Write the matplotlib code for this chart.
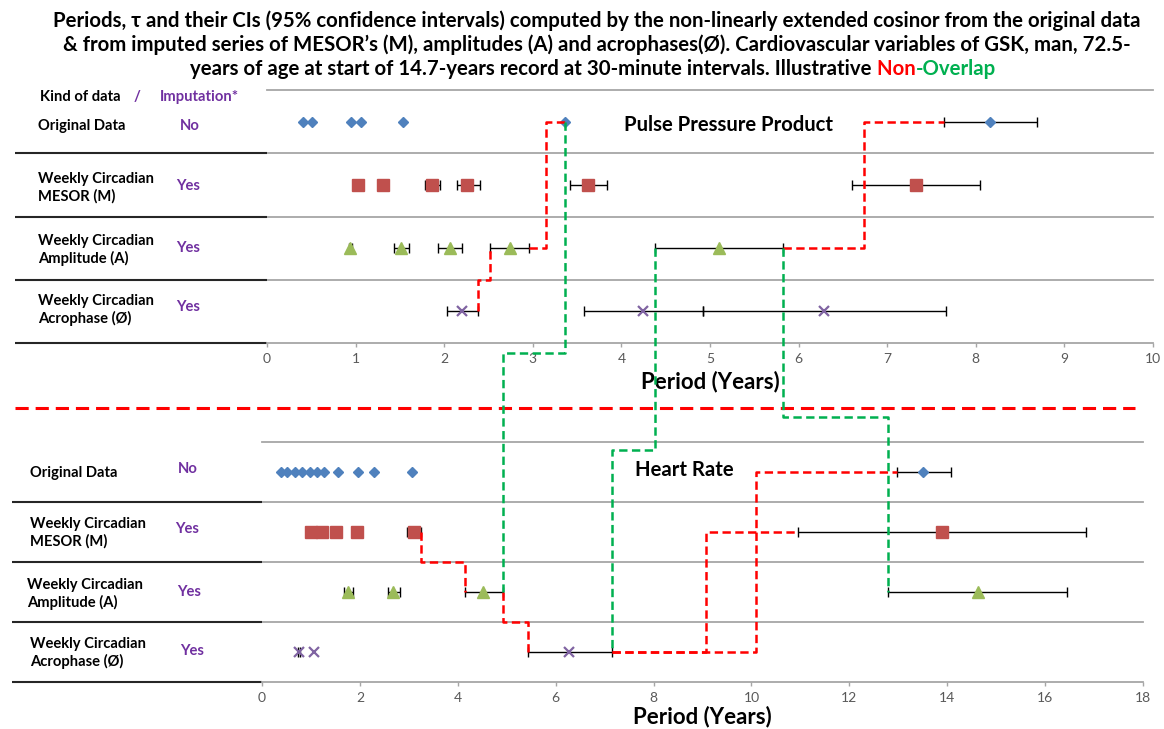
import numpy as np
import matplotlib
matplotlib.use("Agg")
import matplotlib.pyplot as plt
from matplotlib.transforms import blended_transform_factory

plt.rcParams["font.family"] = ["Lato", "DejaVu Sans"]
plt.rcParams["lines.scale_dashes"] = False

nan = np.nan

# rows, top to bottom
row_labels = ["Original Data",
              "Weekly Circadian\nMESOR (M)",
              "Weekly Circadian\nAmplitude (A)",
              "Weekly Circadian\nAcrophase (Ø)"]
imputation = ["No", "Yes", "Yes", "Yes"]
row_y = [4, 3, 2, 1]

# Pulse Pressure Product: periods (years) and 95% CI limits
ppp_orig = [0.41, 0.51, 0.95, 1.06, 1.53, 3.36, 8.16]
ppp_orig_lo = [nan, nan, nan, nan, nan, nan, 7.64]
ppp_orig_hi = [nan, nan, nan, nan, nan, nan, 8.69]
ppp_mesor = [1.03, 1.31, 1.86, 2.26, 3.62, 7.32]
ppp_mesor_lo = [nan, nan, 1.78, 2.14, 3.42, 6.60]
ppp_mesor_hi = [nan, nan, 1.95, 2.40, 3.84, 8.05]
ppp_amp = [0.94, 1.51, 2.06, 2.74, 5.10]
ppp_amp_lo = [0.92, 1.43, 1.93, 2.52, 4.38]
ppp_amp_hi = [0.96, 1.60, 2.20, 2.96, 5.82]
ppp_acro = [2.20, 4.24, 6.29]
ppp_acro_lo = [2.03, 3.58, 4.92]
ppp_acro_hi = [2.38, 4.92, 7.66]

# Heart Rate
hr_orig = [0.38, 0.52, 0.67, 0.82, 0.98, 1.12, 1.26, 1.55, 1.96, 2.29, 3.06, 13.51]
hr_orig_lo = [nan, nan, nan, nan, nan, nan, nan, nan, nan, nan, nan, 12.97]
hr_orig_hi = [nan, nan, nan, nan, nan, nan, nan, nan, nan, nan, nan, 14.07]
hr_mesor = [1.00, 1.23, 1.52, 1.95, 3.10, 13.89]
hr_mesor_lo = [nan, nan, nan, nan, 2.97, 10.96]
hr_mesor_hi = [nan, nan, nan, nan, 3.24, 16.83]
hr_amp = [1.76, 2.68, 4.52, 14.62]
hr_amp_lo = [1.67, 2.58, 4.14, 12.80]
hr_amp_hi = [1.86, 2.82, 4.92, 16.44]
hr_acro = [0.75, 1.06, 6.28]
hr_acro_lo = [0.73, nan, 5.43]
hr_acro_hi = [0.77, nan, 7.16]

ppp_series = [(ppp_orig, ppp_orig_lo, ppp_orig_hi),
              (ppp_mesor, ppp_mesor_lo, ppp_mesor_hi),
              (ppp_amp, ppp_amp_lo, ppp_amp_hi),
              (ppp_acro, ppp_acro_lo, ppp_acro_hi)]
hr_series = [(hr_orig, hr_orig_lo, hr_orig_hi),
             (hr_mesor, hr_mesor_lo, hr_mesor_hi),
             (hr_amp, hr_amp_lo, hr_amp_hi),
             (hr_acro, hr_acro_lo, hr_acro_hi)]

# non-overlap links: (start), (end), elbow type, turning level
ppp_red_links = [
    ((ppp_acro_hi[0], 1), (ppp_amp_lo[3], 2), "v", 1.5),
    ((ppp_amp_hi[3], 2), (ppp_orig[5], 4), "h", 3.15),
    ((ppp_amp_hi[4], 2), (ppp_orig_lo[6], 4), "h", 6.74),
]
hr_red_links = [
    ((hr_mesor_hi[4], 3), (hr_amp_lo[2], 2), "v", 2.5),
    ((hr_amp_hi[2], 2), (hr_acro_lo[2], 1), "v", 1.5),
    ((hr_acro_hi[2], 1), (hr_mesor_lo[5], 3), "h", 9.07),
    ((hr_acro_hi[2], 1), (hr_orig_lo[11], 4), "h", 10.1),
]
# PPP point -> HR point, turning at a level of one of the panels
green_links = [
    ((ppp_orig[5], 4), (hr_amp_hi[2], 2), ("ppp", 0.34)),
    ((ppp_amp_lo[4], 2), (hr_acro_hi[2], 1), ("hr", 4.37)),
    ((ppp_amp_hi[4], 2), (hr_amp_lo[3], 2), ("hr", 4.92)),
]

styles = [dict(marker="D", color="#4F81BD", ms=5.2),
          dict(marker="s", color="#C0504D", ms=8.4),
          dict(marker="^", color="#9BBB59", ms=8),
          dict(marker="x", color="#8064A2", ms=7, mew=1.6)]

PURPLE = "#7030A0"
GRID = "#A6A6A6"

fig = plt.figure(figsize=(11.64, 7.29), dpi=100)
ax_ppp = fig.add_axes([267 / 1164, 1 - 343 / 729, 886 / 1164, 253 / 729])
ax_hr = fig.add_axes([262 / 1164, 1 - 682 / 729, 881 / 1164, 240 / 729])


def draw_panel(ax, series, xmax, step, left_frac, labelpad):
    for (vals, lo, hi), y, st in zip(series, row_y, styles):
        vals, lo, hi = np.asarray(vals), np.asarray(lo), np.asarray(hi)
        ys = np.full(len(vals), y, dtype=float)
        ok = np.isfinite(lo)
        ax.errorbar(vals[ok], ys[ok], xerr=[vals[ok] - lo[ok], hi[ok] - vals[ok]],
                    fmt="none", ecolor="black", elinewidth=1, capsize=3.5,
                    capthick=1, zorder=3)
        ax.plot(vals, ys, linestyle="none", mec=st["color"], zorder=4, **st)
    ax.set_xlim(0, xmax)
    ax.set_ylim(0.5, 4.5)
    ax.set_xticks(np.arange(0, xmax + 1, step))
    ax.set_yticks([])
    for y in [1.5, 2.5, 3.5, 4.5]:
        ax.axhline(y, color=GRID, lw=1.3, zorder=1, clip_on=False)
    for s in ["top", "left", "right"]:
        ax.spines[s].set_visible(False)
    ax.spines["bottom"].set_color(GRID)
    ax.spines["bottom"].set_linewidth(1.3)
    ax.tick_params(axis="x", direction="out", length=3, width=1, color=GRID,
                   labelsize=10, labelcolor="#595959", pad=4)
    ax.set_xlabel("Period (Years)", fontsize=16, fontweight="bold",
                  labelpad=labelpad)
    # dark row separators under the row labels
    trans = blended_transform_factory(ax.transAxes, ax.transData)
    for y in [0.5, 1.5, 2.5, 3.5]:
        ax.plot([-left_frac, 0], [y, y], transform=trans, color="#262626",
                lw=1.5, clip_on=False, solid_capstyle="butt")


draw_panel(ax_ppp, ppp_series, 10, 1, (267 - 15) / 886, 4)
draw_panel(ax_hr, hr_series, 18, 2, (262 - 12) / 881, 1.5)

ax_ppp.text(4.03, 3.94, "Pulse Pressure Product", fontsize=14.6,
            fontweight="bold", ha="left", va="center", zorder=5)
ax_hr.text(7.63, 4.03, "Heart Rate", fontsize=14.6, fontweight="bold",
           ha="left", va="center", zorder=5)

# overlay in figure pixels for the labels and the links
ov = fig.add_axes([0, 0, 1, 1])
ov.set_xlim(0, 1164)
ov.set_ylim(729, 0)
ov.axis("off")
ov.patch.set_visible(False)

title_lines = [
    "Periods, τ and their CIs (95% confidence intervals) computed by the "
    "non-linearly extended cosinor from the original data",
    "& from imputed series of MESOR’s (M), amplitudes (A) and acrophases(Ø). "
    "Cardiovascular variables of GSK, man, 72.5-",
]
tkw = dict(fontsize=14.7, fontweight="bold")
ov.text(597, 21, title_lines[0], ha="center", va="center", **tkw)
ov.text(597, 45, title_lines[1], ha="center", va="center", **tkw)
t1 = ov.text(0, 69, "years of age at start of 14.7-years record at "
             "30-minute intervals. Illustrative", ha="left", va="center", **tkw)
t2 = ov.annotate(" Non", xy=(1, 0), xycoords=t1, va="bottom", color="#FF0000",
                 **tkw)
t3 = ov.annotate("-Overlap", xy=(1, 0), xycoords=t2, va="bottom",
                 color="#00B050", **tkw)
renderer = fig.canvas.get_renderer()
width = t3.get_window_extent(renderer).x1 - t1.get_window_extent(renderer).x0
t1.set_x(593 - width / 2)

# row labels
lkw = dict(fontsize=10.6, fontweight="bold", va="center", linespacing=1.25)
ov.text(40, 97, "Kind of data", **lkw)
ov.text(137, 97, "/", color=PURPLE, ha="center", **lkw)
ov.text(160, 97, "Imputation*", color=PURPLE, **lkw)

ppp_label_y = [126, 188, 250, 310]
ppp_imp_pos = [(180, 126), (176, 186), (176, 248), (176, 307)]
hr_label_pos = [(30, 473), (30, 533), (27, 594), (30, 653)]
hr_imp_pos = [(178, 469), (175, 529), (177, 592), (180, 651)]
for lab, imp, y, (xi, yi) in zip(row_labels, imputation, ppp_label_y, ppp_imp_pos):
    ov.text(38, y, lab, **lkw)
    ov.text(xi, yi, imp, color=PURPLE, **lkw)
for lab, imp, (xl, yl), (xi, yi) in zip(row_labels, imputation, hr_label_pos, hr_imp_pos):
    ov.text(xl, yl, lab, **lkw)
    ov.text(xi, yi, imp, color=PURPLE, **lkw)

# separator between the two variables
ov.plot([15, 1135], [408, 408], color="#FF0000", lw=2.2, dashes=(9.5, 5))

panels = {"ppp": ax_ppp, "hr": ax_hr}


def to_px(ax, x, y):
    return ov.transData.inverted().transform(ax.transData.transform((x, y)))


def elbow(ax_a, a, ax_b, b, kind, turn, color):
    pa, pb = to_px(ax_a, *a), to_px(ax_b, *b)
    if kind == "v":
        xs = [pa[0], pa[0], pb[0], pb[0]]
        ys = [pa[1], turn, turn, pb[1]]
    else:
        xs = [pa[0], turn, turn, pb[0]]
        ys = [pa[1], pa[1], pb[1], pb[1]]
    ov.plot(xs, ys, color=color, lw=1.8, dashes=(6, 3.2), zorder=6)


for ax, links in [(ax_ppp, ppp_red_links), (ax_hr, hr_red_links)]:
    for a, b, kind, t in links:
        turn = to_px(ax, 0, t)[1] if kind == "v" else to_px(ax, t, 0)[0]
        elbow(ax, a, ax, b, kind, turn, "#FF0000")

for a, b, (name, t) in green_links:
    turn = to_px(panels[name], 0, t)[1]
    elbow(ax_ppp, a, ax_hr, b, "v", turn, "#00B050")

fig.savefig("out.png", dpi=100, facecolor="white")
